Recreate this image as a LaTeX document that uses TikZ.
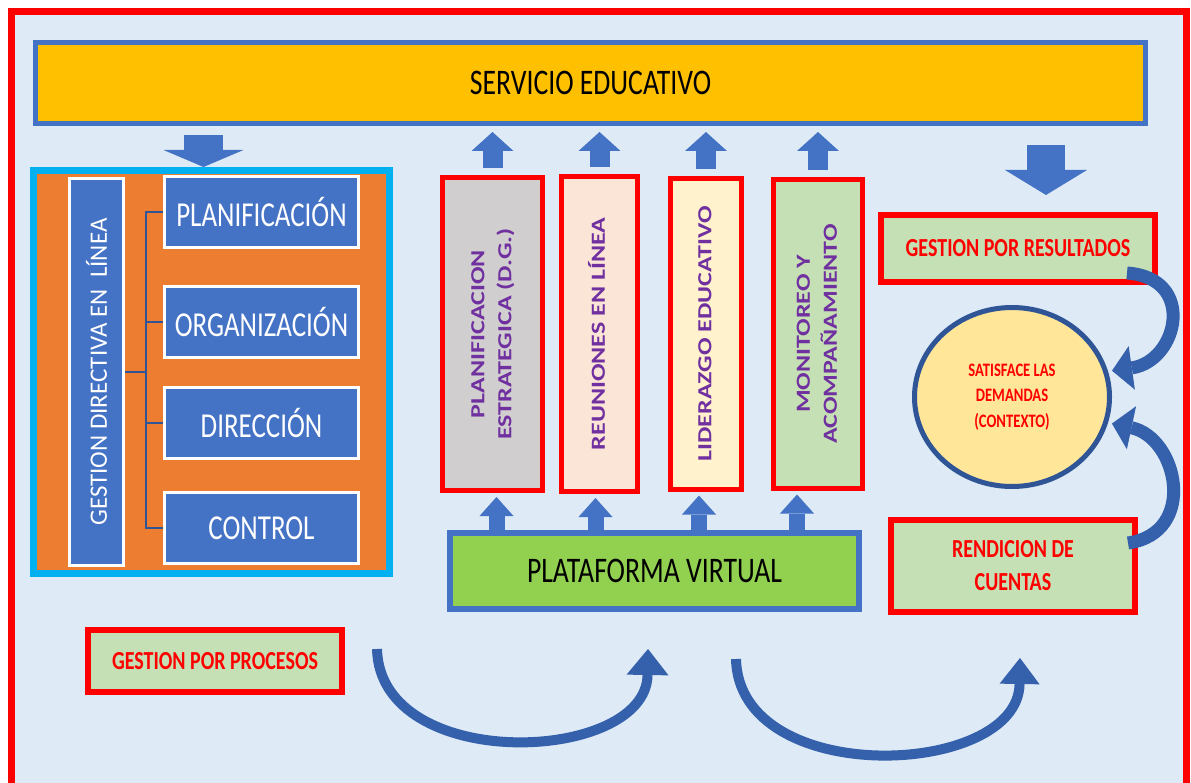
\documentclass[tikz,border=0pt]{standalone}
\usepackage{fontspec}
\setmainfont{Carlito}
\newfontfamily\narrowf[FakeStretch=0.77]{Carlito}
\newfontfamily\widef[FakeStretch=1.3]{Carlito}
\usepackage{graphicx}
\usepackage{xcolor}
\usepackage{tikz}
\usetikzlibrary{arrows.meta,positioning,shapes.geometric}

\definecolor{fondo}{HTML}{DEEBF7}
\definecolor{rojo}{HTML}{FF0000}
\definecolor{oro}{HTML}{FFC000}
\definecolor{azul}{HTML}{4472C4}
\definecolor{azuloscuro}{HTML}{2F5597}
\definecolor{naranja}{HTML}{ED7D31}
\definecolor{celeste}{HTML}{00B0F0}
\definecolor{gris}{HTML}{D0CECE}
\definecolor{durazno}{HTML}{FBE5D6}
\definecolor{crema}{HTML}{FFF2CC}
\definecolor{verdeclaro}{HTML}{C5E0B4}
\definecolor{verde}{HTML}{92D050}
\definecolor{amarillo}{HTML}{FFE699}
\definecolor{morado}{HTML}{7030A0}
\definecolor{flecha}{HTML}{3560AB}

\newcommand{\vlab}[1]{\rotatebox{90}{\begin{tabular}{@{}c@{}}#1\end{tabular}}}

\begin{document}
\begin{tikzpicture}[x=1pt, y=-1pt,
  bar/.style={draw=azul, line width=5pt, fill=oro, minimum width=1110pt, minimum height=81pt, font=\narrowf\fontsize{36}{40}\selectfont},
  marco/.style={draw=celeste, line width=7pt, fill=naranja, minimum width=356pt, minimum height=403pt},
  banda/.style={draw=white, line width=3pt, fill=azul, text=white, minimum width=54pt, minimum height=387pt, font=\fontsize{25}{30}\selectfont},
  pbox/.style={draw=white, line width=3pt, fill=azul, text=white, minimum width=194pt, minimum height=71pt, font=\narrowf\fontsize{35}{40}\selectfont},
  col/.style={draw=rojo, line width=5pt, text=morado, font=\widef\bfseries\fontsize{20}{27}\selectfont},
  res/.style={draw=rojo, line width=6pt, fill=verdeclaro, text=rojo, align=center, font=\narrowf\bfseries\fontsize{26}{33}\selectfont},
  elip/.style={ellipse, draw=azuloscuro, line width=5pt, fill=amarillo, text=rojo, align=center, minimum width=195pt, minimum height=179pt, inner sep=0pt, font=\narrowf\bfseries\fontsize{19}{25.5}\selectfont},
  plat/.style={draw=azul, line width=6pt, fill=verde, minimum width=409pt, minimum height=76pt, font=\narrowf\fontsize{36}{40}\selectfont},
  rama/.style={draw=azuloscuro, line width=1.5pt},
  bajar/.style={draw=azul, line width=39pt, -{Triangle[width=80pt, length=17pt, line width=0pt]}},
  subir/.style={draw=azul, line width=20pt, -{Triangle[width=42pt, length=19pt, line width=0pt]}},
  subirp/.style={draw=azul, line width=16pt, -{Triangle[width=34pt, length=19pt, line width=0pt]}},
  curva/.style={draw=flecha, line width=13pt, -{Triangle[width=44pt, length=20pt, line width=0pt]}}
]
  \useasboundingbox (0,0) rectangle (1191,783);
  % Fondo y marco
  \fill[fondo] (11,12) rectangle (1186,783);
  \draw[rojo, line width=7pt] (11,783) |- (1186,12) -- (1186,783);

  % Servicio educativo
  \node[bar] (se) at (590.5,83) {SERVICIO EDUCATIVO};

  % Gestion directiva
  \node[marco] (gd) at (211.5,372) {};
  \node[banda] (bd) at (96.5,372) {\rotatebox{90}{GESTION DIRECTIVA EN\ \ LÍNEA}};
  \node[pbox] (pl) at (261.5,212) {PLANIFICACIÓN};
  \node[pbox, below=36pt of pl] (or) {ORGANIZACIÓN};
  \node[pbox, below=27pt of or] (di) {DIRECCIÓN};
  \node[pbox, below=31pt of di] (co) {CONTROL};

  \draw[rama] (pl.west) -- ++(-17,0) coordinate (tr) |- (co.west);
  \draw[rama] (or.west) -- (or.west -| tr);
  \draw[rama] (di.west) -- (di.west -| tr);
  \draw[rama] (bd.east) -- (bd.east -| tr);

  % Columnas
  \node[col, fill=gris, minimum width=100pt, minimum height=313pt] (c1) at (492.5,334) {\vlab{PLANIFICACION\\ESTRATEGICA (D.G.)}};
  \node[col, fill=durazno, minimum width=76pt, minimum height=315pt, right=14pt of c1] (c2) {\vlab{REUNIONES EN LÍNEA}};
  \node[col, fill=crema, minimum width=71pt, minimum height=310pt, right=28pt of c2] (c3) {\vlab{LIDERAZGO EDUCATIVO}};
  \node[col, fill=verdeclaro, minimum width=89pt, minimum height=308pt, right=27pt of c3] (c4) {\vlab{MONITOREO Y\\ACOMPAÑAMIENTO}};

  % Plataforma
  \node[plat] (pv) at (654.5,571) {PLATAFORMA VIRTUAL};

  % Lado derecho
  \node[res, minimum width=274pt, minimum height=67pt] (gr) at (1018,248.5) {GESTION POR RESULTADOS};
  \node[elip] (sd) at (1012,397) {SATISFACE LAS\\DEMANDAS\\(CONTEXTO)};
  \node[res, minimum width=244pt, minimum height=92pt] (rc) at (1013,566) {RENDICION DE\\CUENTAS};
  \node[res, minimum width=254pt, minimum height=62pt] (gp) at (215,661) {GESTION POR PROCESOS};

  % Flechas de bloque
  \path (gd.north) ++(-8,0) coordinate (d1);
  \path (gr.north) ++(28,0) coordinate (d2);
  \draw[bajar, shorten <=9pt] (d1 |- se.south) -- (d1);
  \draw[bajar, line width=38pt, -{Triangle[width=82pt, length=25pt, line width=0pt]}, shorten <=19pt, shorten >=17pt] (d2 |- se.south) -- (d2);

  \foreach \c in {c1,c2,c3,c4}
    \draw[subir, shorten <=7pt, shorten >=6pt] (\c.north) -- (\c.north |- se.south);

  \foreach \c/\d in {c1/4,c2/-4,c3/-7,c4/-21} {
    \path ([xshift=\d pt]\c.south) coordinate (b\c);
    \draw[subirp, shorten >=4pt] (b\c |- pv.north) -- (b\c);
  }

  % Flechas curvas
  \draw[curva, shorten >=4pt] ([xshift=-31pt,yshift=12pt]gr.south east) .. controls +(70,5) and +(70,-10) .. (sd.15);
  \draw[curva, shorten >=4pt] ([xshift=-10pt,yshift=-26pt]rc.north east) .. controls +(70,-10) and +(70,15) .. (sd.-15);

  \coordinate (u1) at (377,649);
  \coordinate (u2) at (648,649);
  \coordinate (u3) at (736,659);
  \coordinate (u4) at (1020,658);
  \draw[curva, line width=10pt, -{Triangle[width=42pt, length=26pt, line width=0pt]}] (u1) .. controls +(3,125) and +(-2,115) .. (u2);
  \draw[curva, line width=10pt, -{Triangle[width=40pt, length=26pt, line width=0pt]}] (u3) .. controls +(3,130) and +(-2,120) .. (u4);
\end{tikzpicture}
\end{document}
